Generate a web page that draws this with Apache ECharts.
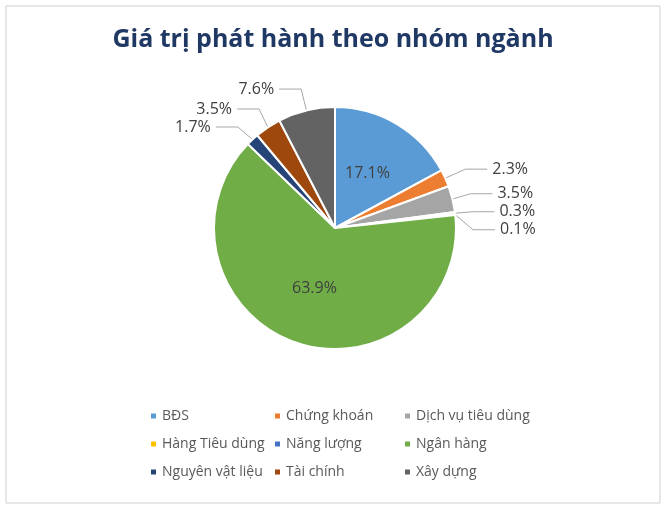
<!DOCTYPE html>
<html><head><meta charset="utf-8">
<script src="https://cdn.jsdelivr.net/npm/echarts@6/dist/echarts.min.js"></script>
<style>html,body{margin:0;padding:0;background:#fff}#c{width:666px;height:509px}</style>
</head><body><div id="c"></div>
<script>
const categories=['BĐS','Chứng khoán','Dịch vụ tiêu dùng','Hàng Tiêu dùng','Năng lượng','Ngân hàng','Nguyên vật liệu','Tài chính','Xây dựng'];
const values=[17.1,2.3,3.5,0.3,0.1,63.9,1.7,3.5,7.6];
const colors=['#5B9BD5','#ED7D31','#A5A5A5','#FFC000','#4472C4','#70AD47','#264478','#9E480E','#636363'];
const insideLabels=['BĐS','Ngân hàng'];
const chart=echarts.init(document.getElementById('c'));
const legendX=[144,268,398];
chart.setOption({
 animation:false,
 color:colors,
 graphic:[{type:'rect',shape:{x:6,y:6,width:654,height:497},style:{fill:'none',stroke:'#d0d0d0',lineWidth:1}}],
 title:{text:'Giá trị phát hành theo nhóm ngành',left:'center',top:22,textStyle:{fontFamily:'Open Sans',fontSize:25,fontWeight:'bold',color:'#1F3864'}},
 legend:legendX.map((x,c)=>({orient:'vertical',left:x,top:404,itemWidth:7,itemHeight:7,itemGap:14,icon:'rect',
   textStyle:{fontFamily:'Open Sans',fontSize:14,color:'#595959'},
   data:[categories[c],categories[c+3],categories[c+6]]})),
 series:[{type:'pie',center:[335,228],radius:121,startAngle:90,clockwise:true,
   itemStyle:{borderColor:'#fff',borderWidth:2},
   label:{formatter:p=>p.value.toFixed(1)+'%',fontFamily:'Open Sans',fontSize:16,color:'#404040'},
   labelLine:{length:22,length2:22,lineStyle:{color:'#a6a6a6'}},
   data:categories.map((n,i)=>({name:n,value:values[i],
     label:insideLabels.includes(n)?{position:'inner',color:'#404040'}:{position:'outside'},
     labelLine:insideLabels.includes(n)?{show:false}:{show:true}}))
 }]
});
</script></body></html>
